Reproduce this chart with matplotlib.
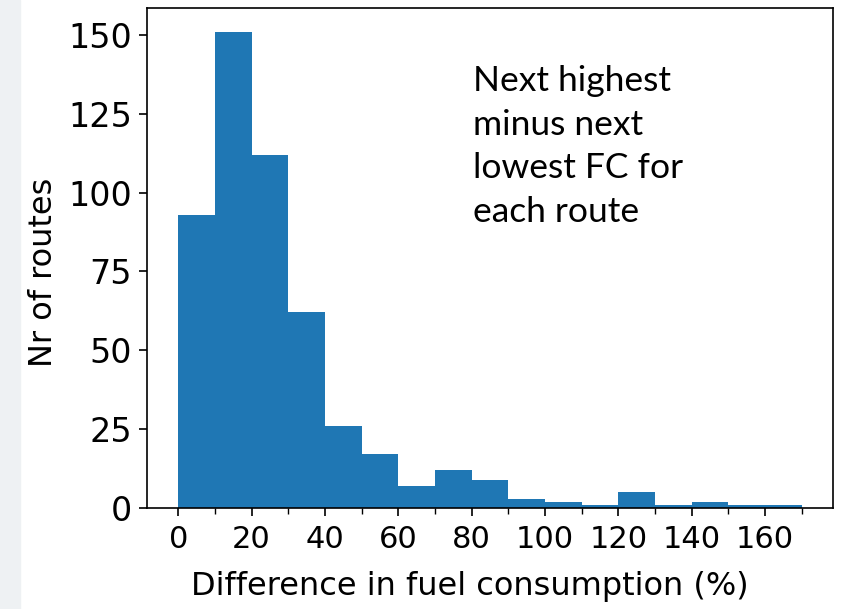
import numpy as np
import matplotlib
matplotlib.use("Agg")
import matplotlib.pyplot as plt
from matplotlib.ticker import MultipleLocator

# histogram of fuel consumption differences, bins of 10 %
bin_edges = [0, 10, 20, 30, 40, 50, 60, 70, 80, 90, 100, 110, 120, 130, 140, 150, 160, 170]
route_counts = [93, 151, 112, 62, 26, 17, 7, 12, 9, 3, 2, 1, 5, 1, 2, 1, 1]
note_text = "Next highest\nminus next\nlowest FC for\neach route"

fig = plt.figure(figsize=(8.46, 6.09), dpi=100)
# faint background strip on the left edge
fig.patches.append(plt.Rectangle((0, 0), 0.024, 1, transform=fig.transFigure,
                                 color="#eef1f3", zorder=0))
ax = fig.add_axes([0.1738, 0.1658, 0.8108, 0.8211])

ax.hist(bin_edges[:-1], bins=bin_edges, weights=route_counts, color="#1f77b4")

ax.xaxis.set_major_locator(MultipleLocator(20))
ax.xaxis.set_minor_locator(MultipleLocator(10))
ax.yaxis.set_major_locator(MultipleLocator(25))
ax.tick_params(axis="x", which="major", labelsize=22, length=6, width=1.2, pad=6)
ax.tick_params(axis="x", which="minor", length=4, width=1.0)
ax.tick_params(axis="y", labelsize=24, length=6, width=1.2, pad=5)
for s in ax.spines.values():
    s.set_linewidth(1.2)

ax.set_xlabel("Difference in fuel consumption (%)", fontsize=23)
ax.set_ylabel("Nr of routes", fontsize=23)
ax.xaxis.set_label_coords(0.471, -0.126)
ax.yaxis.set_label_coords(-0.128, 0.472)

ax.text(0.475, 0.886, note_text, transform=ax.transAxes, fontsize=25.5,
        family="Lato", va="top", ha="left", linespacing=1.45)

plt.savefig("out.png", dpi=100)
